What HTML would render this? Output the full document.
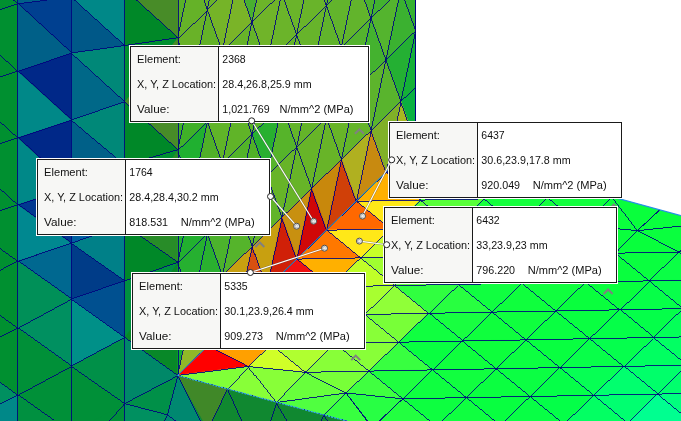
<!DOCTYPE html>
<html><head><meta charset="utf-8"><title>Probe results</title>
<style>html,body{margin:0;padding:0;background:#fff;overflow:hidden}svg{display:block}</style></head>
<body><svg width="681" height="421" viewBox="0 0 681 421">
<rect width="681" height="421" fill="#fff"/>
<g>
<polygon points="-5.0,-5.0 178.0,-5.0 178.0,376.0 167.0,430.0 -5.0,430.0" fill="#009038" />
<polygon points="-5.0,-5.0 17.5,-5.0 17.5,426.0 -5.0,426.0" fill="#009030" />
<polygon points="-36.0,356.0 17.5,395.0 -36.0,423.0" fill="#009060" />
<polygon points="-36.0,423.0 17.5,395.0 17.5,462.0" fill="#008888" />
<polygon points="17.5,-63.0 71.1,-59.0 71.1,-3.0" fill="#004090" />
<polygon points="17.5,-63.0 71.1,-3.0 17.5,3.7" fill="#006088" />
<polygon points="17.5,3.7 71.1,-3.0 71.1,53.0" fill="#004090" />
<polygon points="17.5,3.7 71.1,53.0 17.5,71.2" fill="#006088" />
<polygon points="17.5,71.2 71.1,53.0 71.1,120.1" fill="#002888" />
<polygon points="17.5,71.2 71.1,120.1 17.5,137.7" fill="#008888" />
<polygon points="17.5,137.7 71.1,120.1 71.1,187.0" fill="#002888" />
<polygon points="17.5,137.7 71.1,187.0 17.5,204.7" fill="#008888" />
<polygon points="17.5,204.7 71.1,187.0 71.1,243.2" fill="#003890" />
<polygon points="17.5,204.7 71.1,243.2 17.5,261.0" fill="#008890" />
<polygon points="17.5,261.0 71.1,243.2 71.1,299.0" fill="#006890" />
<polygon points="17.5,261.0 71.1,299.0 17.5,328.0" fill="#009058" />
<polygon points="17.5,328.0 71.1,299.0 71.1,366.2" fill="#009060" />
<polygon points="17.5,328.0 71.1,366.2 17.5,395.0" fill="#009038" />
<polygon points="17.5,395.0 71.1,366.2 71.1,433.0" fill="#009038" />
<polygon points="17.5,395.0 71.1,433.0 17.5,462.0" fill="#009040" />
<polygon points="71.1,-59.0 124.7,-67.0 124.7,-10.7" fill="#008888" />
<polygon points="71.1,-59.0 124.7,-10.7 71.1,-3.0" fill="#005888" />
<polygon points="71.1,-3.0 124.7,-10.7 124.7,45.5" fill="#008888" />
<polygon points="71.1,-3.0 124.7,45.5 71.1,53.0" fill="#005888" />
<polygon points="71.1,53.0 124.7,45.5 124.7,101.7" fill="#008878" />
<polygon points="71.1,53.0 124.7,101.7 71.1,120.1" fill="#006888" />
<polygon points="71.1,120.1 124.7,101.7 124.7,165.0" fill="#008878" />
<polygon points="71.1,120.1 124.7,165.0 71.1,187.0" fill="#006088" />
<polygon points="71.1,187.0 124.7,165.0 124.7,225.0" fill="#008080" />
<polygon points="71.1,187.0 124.7,225.0 71.1,243.2" fill="#0060a0" />
<polygon points="71.1,243.2 124.7,225.0 124.7,280.8" fill="#008088" />
<polygon points="71.1,243.2 124.7,280.8 71.1,299.0" fill="#003c88" />
<polygon points="71.1,299.0 124.7,280.8 124.7,337.4" fill="#005090" />
<polygon points="71.1,299.0 124.7,337.4 71.1,366.2" fill="#009088" />
<polygon points="71.1,366.2 124.7,337.4 124.7,403.6" fill="#009048" />
<polygon points="71.1,366.2 124.7,403.6 71.1,433.0" fill="#009038" />
<polygon points="124.7,-70.0 178.0,-75.0 178.0,37.7 124.7,-10.7" fill="#488c28" />
<polygon points="124.7,-10.7 178.0,37.7 124.7,45.5" fill="#008828" />
<polygon points="124.7,45.5 178.0,37.7 178.0,149.7 124.7,101.7" fill="#488c28" />
<polygon points="124.7,45.5 124.7,101.7 178.0,37.7" fill="#009030" />
<polygon points="124.7,101.7 178.0,149.7 124.7,165.0" fill="#008828" />
<polygon points="124.7,165.0 178.0,149.7 178.0,262.3 124.7,225.0" fill="#288c28" />
<polygon points="124.7,165.0 124.7,225.0 178.0,149.7" fill="#009030" />
<polygon points="124.7,225.0 178.0,262.3 124.7,280.8" fill="#008828" />
<polygon points="124.7,280.8 178.0,262.3 178.0,375.6 124.7,337.4" fill="#088828" />
<polygon points="124.7,280.8 124.7,337.4 178.0,262.3" fill="#009040" />
<polygon points="124.7,337.4 178.0,375.6 124.7,403.6" fill="#008868" />
<polygon points="124.7,403.6 178.0,375.6 167.4,414.8" fill="#009048" />
<polygon points="124.7,403.6 167.4,414.8 150.0,440.0 124.7,470.0" fill="#009060" />
</g>
<clipPath id="cw"><polygon points="178,0 415.5,0 415.5,143.1 177.6,375.4"/></clipPath>
<g clip-path="url(#cw)">
<rect x="178" y="0" width="238" height="380" fill="#68b428"/>
<polygon points="430.5,-39.7 400.8,-10.7 415.7,30.9" fill="#35b130" stroke="#35b130" stroke-width="0.6"/>
<polygon points="430.5,-39.7 445.4,1.9 415.7,30.9" fill="#36b130" stroke="#36b130" stroke-width="0.6"/>
<polygon points="445.4,1.9 415.7,30.9 430.6,72.5" fill="#2cb133" stroke="#2cb133" stroke-width="0.6"/>
<polygon points="385.8,-52.3 356.1,-23.3 371.0,18.3" fill="#4cb22e" stroke="#4cb22e" stroke-width="0.6"/>
<polygon points="385.8,-52.3 400.8,-10.7 371.0,18.3" fill="#42b22f" stroke="#42b22f" stroke-width="0.6"/>
<polygon points="400.8,-10.7 371.0,18.3 385.9,59.9" fill="#54b42e" stroke="#54b42e" stroke-width="0.6"/>
<polygon points="400.8,-10.7 415.7,30.9 385.9,59.9" fill="#3bb130" stroke="#3bb130" stroke-width="0.6"/>
<polygon points="415.7,30.9 385.9,59.9 400.9,101.5" fill="#24b033" stroke="#24b033" stroke-width="0.6"/>
<polygon points="415.7,30.9 430.6,72.5 400.9,101.5" fill="#15b037" stroke="#15b037" stroke-width="0.6"/>
<polygon points="430.6,72.5 400.9,101.5 415.8,143.1" fill="#0ab040" stroke="#0ab040" stroke-width="0.6"/>
<polygon points="430.6,72.5 445.5,114.1 415.8,143.1" fill="#15b03c" stroke="#15b03c" stroke-width="0.6"/>
<polygon points="341.2,-64.9 311.4,-35.9 326.4,5.7" fill="#5cb32c" stroke="#5cb32c" stroke-width="0.6"/>
<polygon points="341.2,-64.9 356.1,-23.3 326.4,5.7" fill="#58b32d" stroke="#58b32d" stroke-width="0.6"/>
<polygon points="356.1,-23.3 326.4,5.7 341.3,47.3" fill="#62b42c" stroke="#62b42c" stroke-width="0.6"/>
<polygon points="356.1,-23.3 371.0,18.3 341.3,47.3" fill="#62b42c" stroke="#62b42c" stroke-width="0.6"/>
<polygon points="371.0,18.3 341.3,47.3 356.2,88.9" fill="#54b32e" stroke="#54b32e" stroke-width="0.6"/>
<polygon points="371.0,18.3 385.9,59.9 356.2,88.9" fill="#44b22f" stroke="#44b22f" stroke-width="0.6"/>
<polygon points="385.9,59.9 356.2,88.9 371.1,130.5" fill="#5db42c" stroke="#5db42c" stroke-width="0.6"/>
<polygon points="385.9,59.9 400.9,101.5 371.1,130.5" fill="#59b42d" stroke="#59b42d" stroke-width="0.6"/>
<polygon points="400.9,101.5 371.1,130.5 386.1,172.1" fill="#80b028" stroke="#80b028" stroke-width="0.6"/>
<polygon points="400.9,101.5 415.8,143.1 386.1,172.1" fill="#a8b820" stroke="#a8b820" stroke-width="0.6"/>
<polygon points="311.4,-35.9 281.7,-6.9 296.6,34.7" fill="#6ab42a" stroke="#6ab42a" stroke-width="0.6"/>
<polygon points="311.4,-35.9 326.4,5.7 296.6,34.7" fill="#69b42a" stroke="#69b42a" stroke-width="0.6"/>
<polygon points="326.4,5.7 296.6,34.7 311.5,76.3" fill="#67b42b" stroke="#67b42b" stroke-width="0.6"/>
<polygon points="326.4,5.7 341.3,47.3 311.5,76.3" fill="#61b42c" stroke="#61b42c" stroke-width="0.6"/>
<polygon points="341.3,47.3 311.5,76.3 326.5,117.9" fill="#61b42b" stroke="#61b42b" stroke-width="0.6"/>
<polygon points="341.3,47.3 356.2,88.9 326.5,117.9" fill="#58b32c" stroke="#58b32c" stroke-width="0.6"/>
<polygon points="356.2,88.9 326.5,117.9 341.4,159.5" fill="#68b428" stroke="#68b428" stroke-width="0.6"/>
<polygon points="356.2,88.9 371.1,130.5 341.4,159.5" fill="#64b429" stroke="#64b429" stroke-width="0.6"/>
<polygon points="371.1,130.5 341.4,159.5 356.3,201.1" fill="#b0b020" stroke="#b0b020" stroke-width="0.6"/>
<polygon points="371.1,130.5 386.1,172.1 356.3,201.1" fill="#c88a10" stroke="#c88a10" stroke-width="0.6"/>
<polygon points="266.8,-48.5 237.0,-19.4 251.9,22.1" fill="#48b030" stroke="#48b030" stroke-width="0.6"/>
<polygon points="266.8,-48.5 281.7,-6.9 251.9,22.1" fill="#6cb429" stroke="#6cb429" stroke-width="0.6"/>
<polygon points="281.7,-6.9 251.9,22.1 266.9,63.7" fill="#70b429" stroke="#70b429" stroke-width="0.6"/>
<polygon points="281.7,-6.9 296.6,34.7 266.9,63.7" fill="#6bb42a" stroke="#6bb42a" stroke-width="0.6"/>
<polygon points="296.6,34.7 266.9,63.7 281.8,105.3" fill="#66b42a" stroke="#66b42a" stroke-width="0.6"/>
<polygon points="296.6,34.7 311.5,76.3 281.8,105.3" fill="#68b42a" stroke="#68b42a" stroke-width="0.6"/>
<polygon points="311.5,76.3 281.8,105.3 296.7,146.9" fill="#63b429" stroke="#63b429" stroke-width="0.6"/>
<polygon points="311.5,76.3 326.5,117.9 296.7,146.9" fill="#64b429" stroke="#64b429" stroke-width="0.6"/>
<polygon points="326.5,117.9 296.7,146.9 311.6,188.5" fill="#67b428" stroke="#67b428" stroke-width="0.6"/>
<polygon points="326.5,117.9 341.4,159.5 311.6,188.5" fill="#68b428" stroke="#68b428" stroke-width="0.6"/>
<polygon points="341.4,159.5 311.6,188.5 326.6,230.1" fill="#c8880c" stroke="#c8880c" stroke-width="0.6"/>
<polygon points="341.4,159.5 356.3,201.1 326.6,230.1" fill="#d04008" stroke="#d04008" stroke-width="0.6"/>
<polygon points="222.1,-61.0 192.3,-32.0 207.3,9.6" fill="#66b228" stroke="#66b228" stroke-width="0.6"/>
<polygon points="222.1,-61.0 237.0,-19.4 207.3,9.6" fill="#6ab329" stroke="#6ab329" stroke-width="0.6"/>
<polygon points="237.0,-19.4 207.3,9.6 222.2,51.2" fill="#75b428" stroke="#75b428" stroke-width="0.6"/>
<polygon points="237.0,-19.4 251.9,22.1 222.2,51.2" fill="#7ab428" stroke="#7ab428" stroke-width="0.6"/>
<polygon points="251.9,22.1 222.2,51.2 237.1,92.8" fill="#67b329" stroke="#67b329" stroke-width="0.6"/>
<polygon points="251.9,22.1 266.9,63.7 237.1,92.8" fill="#65b329" stroke="#65b329" stroke-width="0.6"/>
<polygon points="266.9,63.7 237.1,92.8 252.0,134.3" fill="#59b329" stroke="#59b329" stroke-width="0.6"/>
<polygon points="266.9,63.7 281.8,105.3 252.0,134.3" fill="#5cb429" stroke="#5cb429" stroke-width="0.6"/>
<polygon points="281.8,105.3 252.0,134.3 267.0,175.9" fill="#28b030" stroke="#28b030" stroke-width="0.6"/>
<polygon points="281.8,105.3 296.7,146.9 267.0,175.9" fill="#56b42a" stroke="#56b42a" stroke-width="0.6"/>
<polygon points="296.7,146.9 267.0,175.9 281.9,217.5" fill="#67b428" stroke="#67b428" stroke-width="0.6"/>
<polygon points="296.7,146.9 311.6,188.5 281.9,217.5" fill="#67b428" stroke="#67b428" stroke-width="0.6"/>
<polygon points="311.6,188.5 281.9,217.5 296.8,259.1" fill="#c89010" stroke="#c89010" stroke-width="0.6"/>
<polygon points="311.6,188.5 326.6,230.1 296.8,259.1" fill="#d00808" stroke="#d00808" stroke-width="0.6"/>
<polygon points="177.4,-73.6 192.3,-32.0 162.6,-3.0" fill="#61b228" stroke="#61b228" stroke-width="0.6"/>
<polygon points="192.3,-32.0 162.6,-3.0 177.5,38.6" fill="#59b128" stroke="#59b128" stroke-width="0.6"/>
<polygon points="192.3,-32.0 207.3,9.6 177.5,38.6" fill="#65b228" stroke="#65b228" stroke-width="0.6"/>
<polygon points="207.3,9.6 177.5,38.6 192.5,80.2" fill="#69b228" stroke="#69b228" stroke-width="0.6"/>
<polygon points="207.3,9.6 222.2,51.2 192.5,80.2" fill="#64b228" stroke="#64b228" stroke-width="0.6"/>
<polygon points="222.2,51.2 192.5,80.2 207.4,121.8" fill="#50b028" stroke="#50b028" stroke-width="0.6"/>
<polygon points="222.2,51.2 237.1,92.8 207.4,121.8" fill="#52b128" stroke="#52b128" stroke-width="0.6"/>
<polygon points="237.1,92.8 207.4,121.8 222.3,163.4" fill="#60b428" stroke="#60b428" stroke-width="0.6"/>
<polygon points="237.1,92.8 252.0,134.3 222.3,163.4" fill="#60b428" stroke="#60b428" stroke-width="0.6"/>
<polygon points="252.0,134.3 222.3,163.4 237.2,204.9" fill="#52b329" stroke="#52b329" stroke-width="0.6"/>
<polygon points="252.0,134.3 267.0,175.9 237.2,204.9" fill="#50b028" stroke="#50b028" stroke-width="0.6"/>
<polygon points="267.0,175.9 237.2,204.9 252.2,246.5" fill="#5cb329" stroke="#5cb329" stroke-width="0.6"/>
<polygon points="267.0,175.9 281.9,217.5 252.2,246.5" fill="#61b429" stroke="#61b429" stroke-width="0.6"/>
<polygon points="281.9,217.5 252.2,246.5 267.1,288.1" fill="#c8a010" stroke="#c8a010" stroke-width="0.6"/>
<polygon points="281.9,217.5 296.8,259.1 267.1,288.1" fill="#d02008" stroke="#d02008" stroke-width="0.6"/>
<polygon points="162.6,-3.0 177.5,38.6 147.8,67.6" fill="#5fb228" stroke="#5fb228" stroke-width="0.6"/>
<polygon points="177.5,38.6 147.8,67.6 162.7,109.2" fill="#55b128" stroke="#55b128" stroke-width="0.6"/>
<polygon points="177.5,38.6 192.5,80.2 162.7,109.2" fill="#52b028" stroke="#52b028" stroke-width="0.6"/>
<polygon points="192.5,80.2 162.7,109.2 177.6,150.8" fill="#3fb128" stroke="#3fb128" stroke-width="0.6"/>
<polygon points="192.5,80.2 207.4,121.8 177.6,150.8" fill="#40b028" stroke="#40b028" stroke-width="0.6"/>
<polygon points="207.4,121.8 177.6,150.8 192.6,192.4" fill="#20b030" stroke="#20b030" stroke-width="0.6"/>
<polygon points="207.4,121.8 222.3,163.4 192.6,192.4" fill="#50b028" stroke="#50b028" stroke-width="0.6"/>
<polygon points="222.3,163.4 192.6,192.4 207.5,234.0" fill="#29b030" stroke="#29b030" stroke-width="0.6"/>
<polygon points="222.3,163.4 237.2,204.9 207.5,234.0" fill="#36b12e" stroke="#36b12e" stroke-width="0.6"/>
<polygon points="237.2,204.9 207.5,234.0 222.4,275.5" fill="#4cb32c" stroke="#4cb32c" stroke-width="0.6"/>
<polygon points="237.2,204.9 252.2,246.5 222.4,275.5" fill="#55b42b" stroke="#55b42b" stroke-width="0.6"/>
<polygon points="252.2,246.5 222.4,275.5 237.3,317.1" fill="#c8a010" stroke="#c8a010" stroke-width="0.6"/>
<polygon points="252.2,246.5 267.1,288.1 237.3,317.1" fill="#d85010" stroke="#d85010" stroke-width="0.6"/>
<polygon points="162.7,109.2 177.6,150.8 147.9,179.8" fill="#36b129" stroke="#36b129" stroke-width="0.6"/>
<polygon points="177.6,150.8 147.9,179.8 162.8,221.4" fill="#33b12d" stroke="#33b12d" stroke-width="0.6"/>
<polygon points="177.6,150.8 192.6,192.4 162.8,221.4" fill="#2eb02e" stroke="#2eb02e" stroke-width="0.6"/>
<polygon points="192.6,192.4 162.8,221.4 177.7,263.0" fill="#21b02f" stroke="#21b02f" stroke-width="0.6"/>
<polygon points="192.6,192.4 207.5,234.0 177.7,263.0" fill="#22b02f" stroke="#22b02f" stroke-width="0.6"/>
<polygon points="207.5,234.0 177.7,263.0 192.7,304.6" fill="#26b030" stroke="#26b030" stroke-width="0.6"/>
<polygon points="207.5,234.0 222.4,275.5 192.7,304.6" fill="#2ab02f" stroke="#2ab02f" stroke-width="0.6"/>
<polygon points="222.4,275.5 192.7,304.6 207.6,346.1" fill="#c0a818" stroke="#c0a818" stroke-width="0.6"/>
<polygon points="222.4,275.5 237.3,317.1 207.6,346.1" fill="#d06010" stroke="#d06010" stroke-width="0.6"/>
<polygon points="162.8,221.4 177.7,263.0 148.0,292.0" fill="#1ab030" stroke="#1ab030" stroke-width="0.6"/>
<polygon points="177.7,263.0 148.0,292.0 162.9,333.6" fill="#23b02f" stroke="#23b02f" stroke-width="0.6"/>
<polygon points="177.7,263.0 192.7,304.6 162.9,333.6" fill="#23b02f" stroke="#23b02f" stroke-width="0.6"/>
<polygon points="192.7,304.6 162.9,333.6 177.8,375.2" fill="#10b030" stroke="#10b030" stroke-width="0.6"/>
<polygon points="192.7,304.6 207.6,346.1 177.8,375.2" fill="#90b828" stroke="#90b828" stroke-width="0.6"/>
<polygon points="162.9,333.6 177.8,375.2 148.1,404.2" fill="#17b02f" stroke="#17b02f" stroke-width="0.6"/>
</g>
<clipPath id="cf"><polygon points="415.6,143.1 611.3,196.6 683.0,216.2 683.0,423.0 354.0,423.0 323.7,415.0 276.4,402.5 227.4,389.0 177.6,375.4"/></clipPath>
<g clip-path="url(#cf)">
<rect x="170" y="140" width="520" height="290" fill="#04ff40"/>
<polygon points="446.0,114.6 509.7,113.4 479.9,142.3" fill="#41ff3c" stroke="#41ff3c" stroke-width="0.6"/>
<polygon points="446.0,114.6 416.2,143.5 479.9,142.3" fill="#4cff3b" stroke="#4cff3b" stroke-width="0.6"/>
<polygon points="509.7,113.4 573.3,112.3 543.5,141.1" fill="#2dff3d" stroke="#2dff3d" stroke-width="0.6"/>
<polygon points="509.7,113.4 479.9,142.3 543.5,141.1" fill="#35ff3c" stroke="#35ff3c" stroke-width="0.6"/>
<polygon points="573.3,112.3 637.0,111.1 607.2,140.0" fill="#20ff3f" stroke="#20ff3f" stroke-width="0.6"/>
<polygon points="573.3,112.3 543.5,141.1 607.2,140.0" fill="#24ff3e" stroke="#24ff3e" stroke-width="0.6"/>
<polygon points="637.0,111.1 607.2,140.0 670.9,138.8" fill="#1aff3f" stroke="#1aff3f" stroke-width="0.6"/>
<polygon points="700.6,109.9 670.9,138.8 734.5,137.6" fill="#18ff42" stroke="#18ff42" stroke-width="0.6"/>
<polygon points="416.2,143.5 479.9,142.3 450.1,171.2" fill="#ffe020" stroke="#ffe020" stroke-width="0.6"/>
<polygon points="416.2,143.5 386.4,172.4 450.1,171.2" fill="#ffc000" stroke="#ffc000" stroke-width="0.6"/>
<polygon points="479.9,142.3 543.5,141.1 513.8,170.0" fill="#30ff3c" stroke="#30ff3c" stroke-width="0.6"/>
<polygon points="479.9,142.3 450.1,171.2 513.8,170.0" fill="#3dff3c" stroke="#3dff3c" stroke-width="0.6"/>
<polygon points="543.5,141.1 607.2,140.0 577.4,168.9" fill="#20ff3e" stroke="#20ff3e" stroke-width="0.6"/>
<polygon points="543.5,141.1 513.8,170.0 577.4,168.9" fill="#25ff3d" stroke="#25ff3d" stroke-width="0.6"/>
<polygon points="607.2,140.0 670.9,138.8 641.1,167.7" fill="#15ff3f" stroke="#15ff3f" stroke-width="0.6"/>
<polygon points="607.2,140.0 577.4,168.9 641.1,167.7" fill="#17ff3e" stroke="#17ff3e" stroke-width="0.6"/>
<polygon points="670.9,138.8 734.5,137.6 704.7,166.5" fill="#15ff42" stroke="#15ff42" stroke-width="0.6"/>
<polygon points="670.9,138.8 641.1,167.7 704.7,166.5" fill="#12ff40" stroke="#12ff40" stroke-width="0.6"/>
<polygon points="386.4,172.4 450.1,171.2 420.3,200.1" fill="#ffd010" stroke="#ffd010" stroke-width="0.6"/>
<polygon points="386.4,172.4 356.6,201.3 420.3,200.1" fill="#ffb000" stroke="#ffb000" stroke-width="0.6"/>
<polygon points="450.1,171.2 513.8,170.0 484.0,198.9" fill="#37ff3c" stroke="#37ff3c" stroke-width="0.6"/>
<polygon points="450.1,171.2 420.3,200.1 484.0,198.9" fill="#4eff3c" stroke="#4eff3c" stroke-width="0.6"/>
<polygon points="513.8,170.0 577.4,168.9 547.6,197.8" fill="#1fff3d" stroke="#1fff3d" stroke-width="0.6"/>
<polygon points="513.8,170.0 484.0,198.9 547.6,197.8" fill="#1eff3c" stroke="#1eff3c" stroke-width="0.6"/>
<polygon points="577.4,168.9 641.1,167.7 611.3,196.6" fill="#12ff3e" stroke="#12ff3e" stroke-width="0.6"/>
<polygon points="577.4,168.9 547.6,197.8 611.3,196.6" fill="#17ff3e" stroke="#17ff3e" stroke-width="0.6"/>
<polygon points="641.1,167.7 704.7,166.5 674.9,195.4" fill="#0fff3f" stroke="#0fff3f" stroke-width="0.6"/>
<polygon points="641.1,167.7 611.3,196.6 674.9,195.4" fill="#0cff3d" stroke="#0cff3d" stroke-width="0.6"/>
<polygon points="704.7,166.5 674.9,195.4 738.6,194.2" fill="#10ff41" stroke="#10ff41" stroke-width="0.6"/>
<polygon points="356.6,201.3 420.3,200.1 390.5,229.0" fill="#ffe818" stroke="#ffe818" stroke-width="0.6"/>
<polygon points="356.6,201.3 326.9,230.2 390.5,229.0" fill="#ff6800" stroke="#ff6800" stroke-width="0.6"/>
<polygon points="420.3,200.1 484.0,198.9 454.2,227.8" fill="#58ff38" stroke="#58ff38" stroke-width="0.6"/>
<polygon points="420.3,200.1 390.5,229.0 454.2,227.8" fill="#60ff38" stroke="#60ff38" stroke-width="0.6"/>
<polygon points="484.0,198.9 547.6,197.8 517.8,226.6" fill="#14ff3c" stroke="#14ff3c" stroke-width="0.6"/>
<polygon points="484.0,198.9 454.2,227.8 517.8,226.6" fill="#17ff3c" stroke="#17ff3c" stroke-width="0.6"/>
<polygon points="547.6,197.8 611.3,196.6 581.5,225.5" fill="#12ff3d" stroke="#12ff3d" stroke-width="0.6"/>
<polygon points="547.6,197.8 517.8,226.6 581.5,225.5" fill="#13ff3d" stroke="#13ff3d" stroke-width="0.6"/>
<polygon points="611.3,196.6 674.9,195.4 637.4,230.7" fill="#09ff3c" stroke="#09ff3c" stroke-width="0.6"/>
<polygon points="611.3,196.6 581.5,225.5 637.4,230.7" fill="#0bff3d" stroke="#0bff3d" stroke-width="0.6"/>
<polygon points="674.9,195.4 738.6,194.2 708.8,223.1" fill="#0eff42" stroke="#0eff42" stroke-width="0.6"/>
<polygon points="674.9,195.4 637.4,230.7 708.8,223.1" fill="#0aff3e" stroke="#0aff3e" stroke-width="0.6"/>
<polygon points="326.9,230.2 390.5,229.0 360.7,257.9" fill="#ffe818" stroke="#ffe818" stroke-width="0.6"/>
<polygon points="326.9,230.2 297.1,259.1 360.7,257.9" fill="#ff7800" stroke="#ff7800" stroke-width="0.6"/>
<polygon points="390.5,229.0 454.2,227.8 424.4,256.7" fill="#a0ff30" stroke="#a0ff30" stroke-width="0.6"/>
<polygon points="390.5,229.0 360.7,257.9 424.4,256.7" fill="#c8ff28" stroke="#c8ff28" stroke-width="0.6"/>
<polygon points="454.2,227.8 517.8,226.6 488.1,255.5" fill="#1dff3c" stroke="#1dff3c" stroke-width="0.6"/>
<polygon points="454.2,227.8 424.4,256.7 488.1,255.5" fill="#30ff40" stroke="#30ff40" stroke-width="0.6"/>
<polygon points="517.8,226.6 581.5,225.5 551.7,254.4" fill="#0dff3c" stroke="#0dff3c" stroke-width="0.6"/>
<polygon points="517.8,226.6 488.1,255.5 551.7,254.4" fill="#17ff3c" stroke="#17ff3c" stroke-width="0.6"/>
<polygon points="581.5,225.5 637.4,230.7 615.4,253.2" fill="#0aff3d" stroke="#0aff3d" stroke-width="0.6"/>
<polygon points="581.5,225.5 551.7,254.4 615.4,253.2" fill="#0dff3d" stroke="#0dff3d" stroke-width="0.6"/>
<polygon points="637.4,230.7 708.8,223.1 679.0,252.0" fill="#0aff3e" stroke="#0aff3e" stroke-width="0.6"/>
<polygon points="637.4,230.7 615.4,253.2 679.0,252.0" fill="#08ff3c" stroke="#08ff3c" stroke-width="0.6"/>
<polygon points="708.8,223.1 679.0,252.0 742.7,250.8" fill="#0dff44" stroke="#0dff44" stroke-width="0.6"/>
<polygon points="297.1,259.1 360.7,257.9 330.9,286.8" fill="#ffb000" stroke="#ffb000" stroke-width="0.6"/>
<polygon points="297.1,259.1 267.3,288.0 330.9,286.8" fill="#f01010" stroke="#f01010" stroke-width="0.6"/>
<polygon points="360.7,257.9 424.4,256.7 394.6,285.6" fill="#a0ff30" stroke="#a0ff30" stroke-width="0.6"/>
<polygon points="360.7,257.9 330.9,286.8 394.6,285.6" fill="#c0ff28" stroke="#c0ff28" stroke-width="0.6"/>
<polygon points="424.4,256.7 488.1,255.5 458.3,284.4" fill="#34ff3f" stroke="#34ff3f" stroke-width="0.6"/>
<polygon points="424.4,256.7 394.6,285.6 458.3,284.4" fill="#63ff38" stroke="#63ff38" stroke-width="0.6"/>
<polygon points="488.1,255.5 551.7,254.4 521.9,283.3" fill="#16ff3d" stroke="#16ff3d" stroke-width="0.6"/>
<polygon points="488.1,255.5 458.3,284.4 521.9,283.3" fill="#1aff3d" stroke="#1aff3d" stroke-width="0.6"/>
<polygon points="551.7,254.4 615.4,253.2 585.6,282.1" fill="#0cff3d" stroke="#0cff3d" stroke-width="0.6"/>
<polygon points="551.7,254.4 521.9,283.3 585.6,282.1" fill="#0eff3d" stroke="#0eff3d" stroke-width="0.6"/>
<polygon points="615.4,253.2 679.0,252.0 649.2,280.9" fill="#09ff3f" stroke="#09ff3f" stroke-width="0.6"/>
<polygon points="615.4,253.2 585.6,282.1 649.2,280.9" fill="#09ff3e" stroke="#09ff3e" stroke-width="0.6"/>
<polygon points="679.0,252.0 742.7,250.8 712.9,279.7" fill="#0cff48" stroke="#0cff48" stroke-width="0.6"/>
<polygon points="679.0,252.0 649.2,280.9 712.9,279.7" fill="#0aff45" stroke="#0aff45" stroke-width="0.6"/>
<polygon points="267.3,288.0 330.9,286.8 301.2,315.7" fill="#ff9000" stroke="#ff9000" stroke-width="0.6"/>
<polygon points="267.3,288.0 237.5,316.8 301.2,315.7" fill="#ff2000" stroke="#ff2000" stroke-width="0.6"/>
<polygon points="330.9,286.8 394.6,285.6 364.8,314.5" fill="#a8ff30" stroke="#a8ff30" stroke-width="0.6"/>
<polygon points="330.9,286.8 301.2,315.7 364.8,314.5" fill="#c0ff28" stroke="#c0ff28" stroke-width="0.6"/>
<polygon points="394.6,285.6 458.3,284.4 428.5,313.3" fill="#30ff40" stroke="#30ff40" stroke-width="0.6"/>
<polygon points="394.6,285.6 364.8,314.5 428.5,313.3" fill="#90ff38" stroke="#90ff38" stroke-width="0.6"/>
<polygon points="458.3,284.4 521.9,283.3 492.1,312.1" fill="#10ff40" stroke="#10ff40" stroke-width="0.6"/>
<polygon points="458.3,284.4 428.5,313.3 492.1,312.1" fill="#28ff40" stroke="#28ff40" stroke-width="0.6"/>
<polygon points="521.9,283.3 585.6,282.1 555.8,311.0" fill="#0fff3e" stroke="#0fff3e" stroke-width="0.6"/>
<polygon points="521.9,283.3 492.1,312.1 555.8,311.0" fill="#0fff3d" stroke="#0fff3d" stroke-width="0.6"/>
<polygon points="585.6,282.1 649.2,280.9 619.5,309.8" fill="#08ff3d" stroke="#08ff3d" stroke-width="0.6"/>
<polygon points="585.6,282.1 555.8,311.0 619.5,309.8" fill="#09ff3d" stroke="#09ff3d" stroke-width="0.6"/>
<polygon points="649.2,280.9 712.9,279.7 683.1,308.6" fill="#08ff4b" stroke="#08ff4b" stroke-width="0.6"/>
<polygon points="649.2,280.9 619.5,309.8 683.1,308.6" fill="#06ff48" stroke="#06ff48" stroke-width="0.6"/>
<polygon points="712.9,279.7 683.1,308.6 746.8,307.4" fill="#09ff52" stroke="#09ff52" stroke-width="0.6"/>
<polygon points="237.5,316.8 301.2,315.7 271.4,344.6" fill="#ff9000" stroke="#ff9000" stroke-width="0.6"/>
<polygon points="237.5,316.8 207.7,345.7 271.4,344.6" fill="#ff1000" stroke="#ff1000" stroke-width="0.6"/>
<polygon points="301.2,315.7 364.8,314.5 335.0,343.4" fill="#b0ff30" stroke="#b0ff30" stroke-width="0.6"/>
<polygon points="301.2,315.7 271.4,344.6 335.0,343.4" fill="#c8ff28" stroke="#c8ff28" stroke-width="0.6"/>
<polygon points="364.8,314.5 428.5,313.3 398.7,342.2" fill="#78ff38" stroke="#78ff38" stroke-width="0.6"/>
<polygon points="364.8,314.5 335.0,343.4 398.7,342.2" fill="#88ff38" stroke="#88ff38" stroke-width="0.6"/>
<polygon points="428.5,313.3 492.1,312.1 462.4,341.0" fill="#18ff40" stroke="#18ff40" stroke-width="0.6"/>
<polygon points="428.5,313.3 398.7,342.2 462.4,341.0" fill="#10ff40" stroke="#10ff40" stroke-width="0.6"/>
<polygon points="492.1,312.1 555.8,311.0 526.0,339.9" fill="#0fff3e" stroke="#0fff3e" stroke-width="0.6"/>
<polygon points="492.1,312.1 462.4,341.0 526.0,339.9" fill="#0fff3d" stroke="#0fff3d" stroke-width="0.6"/>
<polygon points="555.8,311.0 619.5,309.8 589.7,338.7" fill="#09ff41" stroke="#09ff41" stroke-width="0.6"/>
<polygon points="555.8,311.0 526.0,339.9 589.7,338.7" fill="#09ff41" stroke="#09ff41" stroke-width="0.6"/>
<polygon points="619.5,309.8 683.1,308.6 653.3,337.5" fill="#04ff49" stroke="#04ff49" stroke-width="0.6"/>
<polygon points="619.5,309.8 589.7,338.7 653.3,337.5" fill="#05ff48" stroke="#05ff48" stroke-width="0.6"/>
<polygon points="683.1,308.6 746.8,307.4 717.0,336.3" fill="#07ff58" stroke="#07ff58" stroke-width="0.6"/>
<polygon points="683.1,308.6 653.3,337.5 717.0,336.3" fill="#04ff58" stroke="#04ff58" stroke-width="0.6"/>
<polygon points="207.7,345.7 271.4,344.6 248.4,366.5" fill="#ffa000" stroke="#ffa000" stroke-width="0.6"/>
<polygon points="207.7,345.7 177.6,375.4 248.4,366.5" fill="#ff0000" stroke="#ff0000" stroke-width="0.6"/>
<polygon points="271.4,344.6 335.0,343.4 305.2,372.3" fill="#b0ff30" stroke="#b0ff30" stroke-width="0.6"/>
<polygon points="271.4,344.6 248.4,366.5 305.2,372.3" fill="#d0ff28" stroke="#d0ff28" stroke-width="0.6"/>
<polygon points="335.0,343.4 398.7,342.2 368.9,371.1" fill="#88ff38" stroke="#88ff38" stroke-width="0.6"/>
<polygon points="335.0,343.4 305.2,372.3 368.9,371.1" fill="#88ff38" stroke="#88ff38" stroke-width="0.6"/>
<polygon points="398.7,342.2 462.4,341.0 432.6,369.9" fill="#08ff40" stroke="#08ff40" stroke-width="0.6"/>
<polygon points="398.7,342.2 368.9,371.1 432.6,369.9" fill="#38ff40" stroke="#38ff40" stroke-width="0.6"/>
<polygon points="462.4,341.0 526.0,339.9 496.2,368.8" fill="#0dff3c" stroke="#0dff3c" stroke-width="0.6"/>
<polygon points="462.4,341.0 432.6,369.9 496.2,368.8" fill="#0fff3d" stroke="#0fff3d" stroke-width="0.6"/>
<polygon points="526.0,339.9 589.7,338.7 559.9,367.6" fill="#08ff40" stroke="#08ff40" stroke-width="0.6"/>
<polygon points="526.0,339.9 496.2,368.8 559.9,367.6" fill="#0cff41" stroke="#0cff41" stroke-width="0.6"/>
<polygon points="589.7,338.7 653.3,337.5 623.5,366.4" fill="#05ff4d" stroke="#05ff4d" stroke-width="0.6"/>
<polygon points="589.7,338.7 559.9,367.6 623.5,366.4" fill="#08ff49" stroke="#08ff49" stroke-width="0.6"/>
<polygon points="653.3,337.5 717.0,336.3 687.2,365.2" fill="#02ff63" stroke="#02ff63" stroke-width="0.6"/>
<polygon points="653.3,337.5 623.5,366.4 687.2,365.2" fill="#01ff61" stroke="#01ff61" stroke-width="0.6"/>
<polygon points="717.0,336.3 687.2,365.2 750.9,364.1" fill="#04ff64" stroke="#04ff64" stroke-width="0.6"/>
<polygon points="305.2,372.3 368.9,371.1 346.0,393.0" fill="#78ff38" stroke="#78ff38" stroke-width="0.6"/>
<polygon points="368.9,371.1 432.6,369.9 402.8,398.8" fill="#1eff40" stroke="#1eff40" stroke-width="0.6"/>
<polygon points="368.9,371.1 346.0,393.0 402.8,398.8" fill="#40ff40" stroke="#40ff40" stroke-width="0.6"/>
<polygon points="432.6,369.9 496.2,368.8 466.4,397.6" fill="#11ff3f" stroke="#11ff3f" stroke-width="0.6"/>
<polygon points="432.6,369.9 402.8,398.8 466.4,397.6" fill="#0fff40" stroke="#0fff40" stroke-width="0.6"/>
<polygon points="496.2,368.8 559.9,367.6 530.1,396.5" fill="#0bff43" stroke="#0bff43" stroke-width="0.6"/>
<polygon points="496.2,368.8 466.4,397.6 530.1,396.5" fill="#0bff40" stroke="#0bff40" stroke-width="0.6"/>
<polygon points="559.9,367.6 623.5,366.4 593.8,395.3" fill="#06ff54" stroke="#06ff54" stroke-width="0.6"/>
<polygon points="559.9,367.6 530.1,396.5 593.8,395.3" fill="#05ff48" stroke="#05ff48" stroke-width="0.6"/>
<polygon points="623.5,366.4 687.2,365.2 657.4,394.1" fill="#00ff6a" stroke="#00ff6a" stroke-width="0.6"/>
<polygon points="623.5,366.4 593.8,395.3 657.4,394.1" fill="#01ff6e" stroke="#01ff6e" stroke-width="0.6"/>
<polygon points="687.2,365.2 750.9,364.1 721.1,392.9" fill="#03ff68" stroke="#03ff68" stroke-width="0.6"/>
<polygon points="687.2,365.2 657.4,394.1 721.1,392.9" fill="#01ff6d" stroke="#01ff6d" stroke-width="0.6"/>
<polygon points="346.0,393.0 402.8,398.8 373.0,427.7" fill="#22ff40" stroke="#22ff40" stroke-width="0.6"/>
<polygon points="402.8,398.8 466.4,397.6 436.6,426.5" fill="#0dff40" stroke="#0dff40" stroke-width="0.6"/>
<polygon points="402.8,398.8 373.0,427.7 436.6,426.5" fill="#22ff40" stroke="#22ff40" stroke-width="0.6"/>
<polygon points="466.4,397.6 530.1,396.5 500.3,425.4" fill="#08ff40" stroke="#08ff40" stroke-width="0.6"/>
<polygon points="466.4,397.6 436.6,426.5 500.3,425.4" fill="#0fff40" stroke="#0fff40" stroke-width="0.6"/>
<polygon points="530.1,396.5 593.8,395.3 564.0,424.2" fill="#04ff48" stroke="#04ff48" stroke-width="0.6"/>
<polygon points="530.1,396.5 500.3,425.4 564.0,424.2" fill="#08ff45" stroke="#08ff45" stroke-width="0.6"/>
<polygon points="593.8,395.3 657.4,394.1 627.6,423.0" fill="#00ff70" stroke="#00ff70" stroke-width="0.6"/>
<polygon points="593.8,395.3 564.0,424.2 627.6,423.0" fill="#03ff63" stroke="#03ff63" stroke-width="0.6"/>
<polygon points="657.4,394.1 721.1,392.9 691.3,421.8" fill="#01ff7e" stroke="#01ff7e" stroke-width="0.6"/>
<polygon points="657.4,394.1 627.6,423.0 691.3,421.8" fill="#00ff90" stroke="#00ff90" stroke-width="0.6"/>
<polygon points="373.0,427.7 436.6,426.5 406.9,455.4" fill="#26ff3f" stroke="#26ff3f" stroke-width="0.6"/>
<polygon points="373.0,427.7 343.2,456.6 406.9,455.4" fill="#32ff3f" stroke="#32ff3f" stroke-width="0.6"/>
<polygon points="436.6,426.5 500.3,425.4 470.5,454.2" fill="#11ff40" stroke="#11ff40" stroke-width="0.6"/>
<polygon points="436.6,426.5 406.9,455.4 470.5,454.2" fill="#1bff40" stroke="#1bff40" stroke-width="0.6"/>
<polygon points="500.3,425.4 564.0,424.2 534.2,453.1" fill="#0aff46" stroke="#0aff46" stroke-width="0.6"/>
<polygon points="500.3,425.4 470.5,454.2 534.2,453.1" fill="#0dff42" stroke="#0dff42" stroke-width="0.6"/>
<polygon points="564.0,424.2 627.6,423.0 597.8,451.9" fill="#04ff62" stroke="#04ff62" stroke-width="0.6"/>
<polygon points="564.0,424.2 534.2,453.1 597.8,451.9" fill="#07ff4d" stroke="#07ff4d" stroke-width="0.6"/>
<polygon points="627.6,423.0 691.3,421.8 661.5,450.7" fill="#01ff89" stroke="#01ff89" stroke-width="0.6"/>
<polygon points="627.6,423.0 597.8,451.9 661.5,450.7" fill="#02ff73" stroke="#02ff73" stroke-width="0.6"/>
<polygon points="691.3,421.8 661.5,450.7 725.2,449.5" fill="#03ff7d" stroke="#03ff7d" stroke-width="0.6"/>
<polygon points="177.6,375.4 248.4,366.5 227.4,389.0" fill="#80ff38" stroke="#80ff38" stroke-width="0.6"/>
<polygon points="248.4,366.5 276.4,402.5 227.4,389.0" fill="#88ff38" stroke="#88ff38" stroke-width="0.6"/>
<polygon points="248.4,366.5 305.2,372.3 276.4,402.5" fill="#88ff38" stroke="#88ff38" stroke-width="0.6"/>
<polygon points="305.2,372.3 346.0,393.0 276.4,402.5" fill="#68ff3c" stroke="#68ff3c" stroke-width="0.6"/>
<polygon points="346.0,393.0 323.7,415.0 276.4,402.5" fill="#50ff40" stroke="#50ff40" stroke-width="0.6"/>
<polygon points="346.0,393.0 372.0,427.6 323.7,415.0" fill="#38ff40" stroke="#38ff40" stroke-width="0.6"/>
<polygon points="346.0,393.0 402.8,398.8 372.0,427.6" fill="#28ff44" stroke="#28ff44" stroke-width="0.6"/>
</g>
<polygon points="177.6,375.4 227.4,389 276.4,402.5 323.7,415 354,423 160,430 167.4,414.8" fill="#108830"/>
<polygon points="177.6,375.4 167.4,414.8 160.0,430.0 204.0,430.0 201.5,421.0" fill="#008870" />
<polygon points="177.6,375.4 227.4,389.0 208.0,430.0" fill="#408828" />
<g stroke="#000080" stroke-width="0.85" fill="none" shape-rendering="crispEdges">
<path d="M17.5 -63.0L71.1 -59.0"/>
<path d="M17.5 -63.0L71.1 -3.0"/>
<path d="M71.1 -59.0L124.7 -67.0"/>
<path d="M71.1 -59.0L124.7 -10.7"/>
<path d="M17.5 3.7L71.1 -3.0"/>
<path d="M17.5 3.7L71.1 53.0"/>
<path d="M71.1 -3.0L124.7 -10.7"/>
<path d="M71.1 -3.0L124.7 45.5"/>
<path d="M17.5 71.2L71.1 53.0"/>
<path d="M17.5 71.2L71.1 120.1"/>
<path d="M71.1 53.0L124.7 45.5"/>
<path d="M71.1 53.0L124.7 101.7"/>
<path d="M17.5 137.7L71.1 120.1"/>
<path d="M17.5 137.7L71.1 187.0"/>
<path d="M71.1 120.1L124.7 101.7"/>
<path d="M71.1 120.1L124.7 165.0"/>
<path d="M17.5 204.7L71.1 187.0"/>
<path d="M17.5 204.7L71.1 243.2"/>
<path d="M71.1 187.0L124.7 165.0"/>
<path d="M71.1 187.0L124.7 225.0"/>
<path d="M17.5 261.0L71.1 243.2"/>
<path d="M17.5 261.0L71.1 299.0"/>
<path d="M71.1 243.2L124.7 225.0"/>
<path d="M71.1 243.2L124.7 280.8"/>
<path d="M17.5 328.0L71.1 299.0"/>
<path d="M17.5 328.0L71.1 366.2"/>
<path d="M71.1 299.0L124.7 280.8"/>
<path d="M71.1 299.0L124.7 337.4"/>
<path d="M17.5 395.0L71.1 366.2"/>
<path d="M17.5 395.0L71.1 433.0"/>
<path d="M71.1 366.2L124.7 337.4"/>
<path d="M71.1 366.2L124.7 403.6"/>
<path d="M-36.0 -45.0L17.5 -63.0"/>
<path d="M-36.0 -45.0L17.5 3.7"/>
<path d="M-36.0 22.0L17.5 3.7"/>
<path d="M-36.0 22.0L17.5 71.2"/>
<path d="M-36.0 89.0L17.5 71.2"/>
<path d="M-36.0 89.0L17.5 137.7"/>
<path d="M-36.0 156.0L17.5 137.7"/>
<path d="M-36.0 156.0L17.5 204.7"/>
<path d="M-36.0 223.0L17.5 204.7"/>
<path d="M-36.0 223.0L17.5 261.0"/>
<path d="M-36.0 289.6L17.5 261.0"/>
<path d="M-36.0 289.6L17.5 328.0"/>
<path d="M-36.0 356.0L17.5 328.0"/>
<path d="M-36.0 356.0L17.5 395.0"/>
<path d="M-36.0 423.0L17.5 395.0"/>
<path d="M-36.0 423.0L17.5 462.0"/>
<path d="M17.5 -5.0L17.5 426.0"/>
<path d="M71.1 -5.0L71.1 426.0"/>
<path d="M124.7 -5.0L124.7 426.0"/>
<path d="M178.0 -5.0L178.0 375.6"/>
<path d="M124.7 -10.7L178.0 37.7"/>
<path d="M124.7 45.5L178.0 37.7"/>
<path d="M124.7 101.7L178.0 149.7"/>
<path d="M124.7 165.0L178.0 149.7"/>
<path d="M124.7 225.0L178.0 262.3"/>
<path d="M124.7 280.8L178.0 262.3"/>
<path d="M124.7 337.4L178.0 375.6"/>
<path d="M124.7 403.6L178.0 375.6"/>
<path d="M124.7 403.6L167.4 414.8"/>
<path d="M178.0 375.6L167.4 414.8"/>
<path d="M124.7 403.6L100.0 432.0"/>
<path d="M167.4 414.8L160.0 430.0"/>
<path d="M167.4 414.8L185.0 428.0"/>
<path d="M177.6 375.4L204.0 428.0"/>
<path d="M227.4 389.0L208.0 430.0"/>
<path d="M227.4 389.0L245.0 428.0"/>
<path d="M276.4 402.5L268.0 428.0"/>
<path d="M276.4 402.5L292.0 428.0"/>
<path d="M323.7 415.0L318.0 428.0"/>
<path d="M323.7 415.0L332.0 428.0"/>
</g>
<g clip-path="url(#cw)" stroke="#000080" stroke-width="0.85" fill="none" shape-rendering="crispEdges">
<path d="M430.5 -39.7L415.7 30.9"/>
<path d="M445.4 1.9L415.7 30.9"/>
<path d="M385.8 -52.3L371.0 18.3"/>
<path d="M400.8 -10.7L371.0 18.3"/>
<path d="M400.8 -10.7L415.7 30.9"/>
<path d="M400.8 -10.7L385.9 59.9"/>
<path d="M415.7 30.9L385.9 59.9"/>
<path d="M415.7 30.9L430.6 72.5"/>
<path d="M415.7 30.9L400.9 101.5"/>
<path d="M430.6 72.5L400.9 101.5"/>
<path d="M430.6 72.5L415.8 143.1"/>
<path d="M445.5 114.1L415.8 143.1"/>
<path d="M341.2 -64.9L326.4 5.7"/>
<path d="M356.1 -23.3L326.4 5.7"/>
<path d="M356.1 -23.3L371.0 18.3"/>
<path d="M356.1 -23.3L341.3 47.3"/>
<path d="M371.0 18.3L341.3 47.3"/>
<path d="M371.0 18.3L385.9 59.9"/>
<path d="M371.0 18.3L356.2 88.9"/>
<path d="M385.9 59.9L356.2 88.9"/>
<path d="M385.9 59.9L400.9 101.5"/>
<path d="M385.9 59.9L371.1 130.5"/>
<path d="M400.9 101.5L371.1 130.5"/>
<path d="M400.9 101.5L415.8 143.1"/>
<path d="M400.9 101.5L386.1 172.1"/>
<path d="M415.8 143.1L386.1 172.1"/>
<path d="M415.8 143.1L430.7 184.7"/>
<path d="M415.8 143.1L401.0 213.7"/>
<path d="M311.4 -35.9L326.4 5.7"/>
<path d="M311.4 -35.9L296.6 34.7"/>
<path d="M326.4 5.7L296.6 34.7"/>
<path d="M326.4 5.7L341.3 47.3"/>
<path d="M326.4 5.7L311.5 76.3"/>
<path d="M341.3 47.3L311.5 76.3"/>
<path d="M341.3 47.3L356.2 88.9"/>
<path d="M341.3 47.3L326.5 117.9"/>
<path d="M356.2 88.9L326.5 117.9"/>
<path d="M356.2 88.9L371.1 130.5"/>
<path d="M356.2 88.9L341.4 159.5"/>
<path d="M371.1 130.5L341.4 159.5"/>
<path d="M371.1 130.5L386.1 172.1"/>
<path d="M371.1 130.5L356.3 201.1"/>
<path d="M386.1 172.1L356.3 201.1"/>
<path d="M386.1 172.1L401.0 213.7"/>
<path d="M386.1 172.1L371.2 242.7"/>
<path d="M266.8 -48.5L251.9 22.1"/>
<path d="M281.7 -6.9L251.9 22.1"/>
<path d="M281.7 -6.9L296.6 34.7"/>
<path d="M281.7 -6.9L266.9 63.7"/>
<path d="M296.6 34.7L266.9 63.7"/>
<path d="M296.6 34.7L311.5 76.3"/>
<path d="M296.6 34.7L281.8 105.3"/>
<path d="M311.5 76.3L281.8 105.3"/>
<path d="M311.5 76.3L326.5 117.9"/>
<path d="M311.5 76.3L296.7 146.9"/>
<path d="M326.5 117.9L296.7 146.9"/>
<path d="M326.5 117.9L341.4 159.5"/>
<path d="M326.5 117.9L311.6 188.5"/>
<path d="M341.4 159.5L311.6 188.5"/>
<path d="M341.4 159.5L356.3 201.1"/>
<path d="M341.4 159.5L326.6 230.1"/>
<path d="M356.3 201.1L326.6 230.1"/>
<path d="M356.3 201.1L371.2 242.7"/>
<path d="M356.3 201.1L341.5 271.7"/>
<path d="M222.1 -61.0L207.3 9.6"/>
<path d="M237.0 -19.4L207.3 9.6"/>
<path d="M237.0 -19.4L251.9 22.1"/>
<path d="M237.0 -19.4L222.2 51.2"/>
<path d="M251.9 22.1L222.2 51.2"/>
<path d="M251.9 22.1L266.9 63.7"/>
<path d="M251.9 22.1L237.1 92.8"/>
<path d="M266.9 63.7L237.1 92.8"/>
<path d="M266.9 63.7L281.8 105.3"/>
<path d="M266.9 63.7L252.0 134.3"/>
<path d="M281.8 105.3L252.0 134.3"/>
<path d="M281.8 105.3L296.7 146.9"/>
<path d="M281.8 105.3L267.0 175.9"/>
<path d="M296.7 146.9L267.0 175.9"/>
<path d="M296.7 146.9L311.6 188.5"/>
<path d="M296.7 146.9L281.9 217.5"/>
<path d="M311.6 188.5L281.9 217.5"/>
<path d="M311.6 188.5L326.6 230.1"/>
<path d="M311.6 188.5L296.8 259.1"/>
<path d="M326.6 230.1L296.8 259.1"/>
<path d="M326.6 230.1L341.5 271.7"/>
<path d="M326.6 230.1L311.7 300.7"/>
<path d="M177.4 -73.6L162.6 -3.0"/>
<path d="M192.3 -32.0L162.6 -3.0"/>
<path d="M192.3 -32.0L207.3 9.6"/>
<path d="M192.3 -32.0L177.5 38.6"/>
<path d="M207.3 9.6L177.5 38.6"/>
<path d="M207.3 9.6L222.2 51.2"/>
<path d="M207.3 9.6L192.5 80.2"/>
<path d="M222.2 51.2L192.5 80.2"/>
<path d="M222.2 51.2L237.1 92.8"/>
<path d="M222.2 51.2L207.4 121.8"/>
<path d="M237.1 92.8L207.4 121.8"/>
<path d="M237.1 92.8L252.0 134.3"/>
<path d="M237.1 92.8L222.3 163.4"/>
<path d="M252.0 134.3L222.3 163.4"/>
<path d="M252.0 134.3L267.0 175.9"/>
<path d="M252.0 134.3L237.2 204.9"/>
<path d="M267.0 175.9L237.2 204.9"/>
<path d="M267.0 175.9L281.9 217.5"/>
<path d="M267.0 175.9L252.2 246.5"/>
<path d="M281.9 217.5L252.2 246.5"/>
<path d="M281.9 217.5L296.8 259.1"/>
<path d="M281.9 217.5L267.1 288.1"/>
<path d="M296.8 259.1L267.1 288.1"/>
<path d="M296.8 259.1L311.7 300.7"/>
<path d="M296.8 259.1L282.0 329.7"/>
<path d="M162.6 -3.0L177.5 38.6"/>
<path d="M177.5 38.6L147.8 67.6"/>
<path d="M177.5 38.6L192.5 80.2"/>
<path d="M177.5 38.6L162.7 109.2"/>
<path d="M192.5 80.2L162.7 109.2"/>
<path d="M192.5 80.2L207.4 121.8"/>
<path d="M192.5 80.2L177.6 150.8"/>
<path d="M207.4 121.8L177.6 150.8"/>
<path d="M207.4 121.8L222.3 163.4"/>
<path d="M207.4 121.8L192.6 192.4"/>
<path d="M222.3 163.4L192.6 192.4"/>
<path d="M222.3 163.4L237.2 204.9"/>
<path d="M222.3 163.4L207.5 234.0"/>
<path d="M237.2 204.9L207.5 234.0"/>
<path d="M237.2 204.9L252.2 246.5"/>
<path d="M237.2 204.9L222.4 275.5"/>
<path d="M252.2 246.5L222.4 275.5"/>
<path d="M252.2 246.5L267.1 288.1"/>
<path d="M252.2 246.5L237.3 317.1"/>
<path d="M267.1 288.1L237.3 317.1"/>
<path d="M267.1 288.1L282.0 329.7"/>
<path d="M267.1 288.1L252.3 358.7"/>
<path d="M162.7 109.2L177.6 150.8"/>
<path d="M177.6 150.8L147.9 179.8"/>
<path d="M177.6 150.8L192.6 192.4"/>
<path d="M177.6 150.8L162.8 221.4"/>
<path d="M192.6 192.4L162.8 221.4"/>
<path d="M192.6 192.4L207.5 234.0"/>
<path d="M192.6 192.4L177.7 263.0"/>
<path d="M207.5 234.0L177.7 263.0"/>
<path d="M207.5 234.0L222.4 275.5"/>
<path d="M207.5 234.0L192.7 304.6"/>
<path d="M222.4 275.5L192.7 304.6"/>
<path d="M222.4 275.5L237.3 317.1"/>
<path d="M222.4 275.5L207.6 346.1"/>
<path d="M237.3 317.1L207.6 346.1"/>
<path d="M237.3 317.1L252.3 358.7"/>
<path d="M237.3 317.1L222.5 387.7"/>
<path d="M162.8 221.4L177.7 263.0"/>
<path d="M177.7 263.0L148.0 292.0"/>
<path d="M177.7 263.0L192.7 304.6"/>
<path d="M177.7 263.0L162.9 333.6"/>
<path d="M192.7 304.6L162.9 333.6"/>
<path d="M192.7 304.6L207.6 346.1"/>
<path d="M192.7 304.6L177.8 375.2"/>
<path d="M207.6 346.1L177.8 375.2"/>
<path d="M207.6 346.1L222.5 387.7"/>
<path d="M207.6 346.1L192.8 416.7"/>
<path d="M162.9 333.6L177.8 375.2"/>
<path d="M177.8 375.2L148.1 404.2"/>
<path d="M177.8 375.2L192.8 416.7"/>
<path d="M177.8 375.2L163.0 445.8"/>
</g>
<g clip-path="url(#cf)" stroke="#000080" stroke-width="0.85" fill="none" shape-rendering="crispEdges">
<path d="M446.0 114.6L509.7 113.4"/>
<path d="M509.7 113.4L479.9 142.3"/>
<path d="M479.9 142.3L446.0 114.6"/>
<path d="M446.0 114.6L416.2 143.5"/>
<path d="M416.2 143.5L479.9 142.3"/>
<path d="M509.7 113.4L573.3 112.3"/>
<path d="M573.3 112.3L543.5 141.1"/>
<path d="M543.5 141.1L509.7 113.4"/>
<path d="M479.9 142.3L543.5 141.1"/>
<path d="M573.3 112.3L637.0 111.1"/>
<path d="M637.0 111.1L607.2 140.0"/>
<path d="M607.2 140.0L573.3 112.3"/>
<path d="M543.5 141.1L607.2 140.0"/>
<path d="M607.2 140.0L670.9 138.8"/>
<path d="M670.9 138.8L637.0 111.1"/>
<path d="M700.6 109.9L670.9 138.8"/>
<path d="M670.9 138.8L734.5 137.6"/>
<path d="M479.9 142.3L450.1 171.2"/>
<path d="M450.1 171.2L416.2 143.5"/>
<path d="M416.2 143.5L386.4 172.4"/>
<path d="M386.4 172.4L450.1 171.2"/>
<path d="M543.5 141.1L513.8 170.0"/>
<path d="M513.8 170.0L479.9 142.3"/>
<path d="M450.1 171.2L513.8 170.0"/>
<path d="M607.2 140.0L577.4 168.9"/>
<path d="M577.4 168.9L543.5 141.1"/>
<path d="M513.8 170.0L577.4 168.9"/>
<path d="M670.9 138.8L641.1 167.7"/>
<path d="M641.1 167.7L607.2 140.0"/>
<path d="M577.4 168.9L641.1 167.7"/>
<path d="M704.7 166.5L670.9 138.8"/>
<path d="M641.1 167.7L704.7 166.5"/>
<path d="M450.1 171.2L420.3 200.1"/>
<path d="M420.3 200.1L386.4 172.4"/>
<path d="M386.4 172.4L356.6 201.3"/>
<path d="M356.6 201.3L420.3 200.1"/>
<path d="M513.8 170.0L484.0 198.9"/>
<path d="M484.0 198.9L450.1 171.2"/>
<path d="M420.3 200.1L484.0 198.9"/>
<path d="M577.4 168.9L547.6 197.8"/>
<path d="M547.6 197.8L513.8 170.0"/>
<path d="M484.0 198.9L547.6 197.8"/>
<path d="M641.1 167.7L611.3 196.6"/>
<path d="M611.3 196.6L577.4 168.9"/>
<path d="M547.6 197.8L611.3 196.6"/>
<path d="M704.7 166.5L674.9 195.4"/>
<path d="M674.9 195.4L641.1 167.7"/>
<path d="M611.3 196.6L674.9 195.4"/>
<path d="M674.9 195.4L738.6 194.2"/>
<path d="M420.3 200.1L390.5 229.0"/>
<path d="M390.5 229.0L356.6 201.3"/>
<path d="M356.6 201.3L326.9 230.2"/>
<path d="M326.9 230.2L390.5 229.0"/>
<path d="M484.0 198.9L454.2 227.8"/>
<path d="M454.2 227.8L420.3 200.1"/>
<path d="M390.5 229.0L454.2 227.8"/>
<path d="M547.6 197.8L517.8 226.6"/>
<path d="M517.8 226.6L484.0 198.9"/>
<path d="M454.2 227.8L517.8 226.6"/>
<path d="M611.3 196.6L581.5 225.5"/>
<path d="M581.5 225.5L547.6 197.8"/>
<path d="M517.8 226.6L581.5 225.5"/>
<path d="M674.9 195.4L637.4 230.7"/>
<path d="M637.4 230.7L611.3 196.6"/>
<path d="M581.5 225.5L637.4 230.7"/>
<path d="M708.8 223.1L674.9 195.4"/>
<path d="M637.4 230.7L708.8 223.1"/>
<path d="M390.5 229.0L360.7 257.9"/>
<path d="M360.7 257.9L326.9 230.2"/>
<path d="M326.9 230.2L297.1 259.1"/>
<path d="M297.1 259.1L360.7 257.9"/>
<path d="M454.2 227.8L424.4 256.7"/>
<path d="M424.4 256.7L390.5 229.0"/>
<path d="M360.7 257.9L424.4 256.7"/>
<path d="M517.8 226.6L488.1 255.5"/>
<path d="M488.1 255.5L454.2 227.8"/>
<path d="M424.4 256.7L488.1 255.5"/>
<path d="M581.5 225.5L551.7 254.4"/>
<path d="M551.7 254.4L517.8 226.6"/>
<path d="M488.1 255.5L551.7 254.4"/>
<path d="M637.4 230.7L615.4 253.2"/>
<path d="M615.4 253.2L581.5 225.5"/>
<path d="M551.7 254.4L615.4 253.2"/>
<path d="M708.8 223.1L679.0 252.0"/>
<path d="M679.0 252.0L637.4 230.7"/>
<path d="M615.4 253.2L679.0 252.0"/>
<path d="M679.0 252.0L742.7 250.8"/>
<path d="M360.7 257.9L330.9 286.8"/>
<path d="M330.9 286.8L297.1 259.1"/>
<path d="M297.1 259.1L267.3 288.0"/>
<path d="M267.3 288.0L330.9 286.8"/>
<path d="M424.4 256.7L394.6 285.6"/>
<path d="M394.6 285.6L360.7 257.9"/>
<path d="M330.9 286.8L394.6 285.6"/>
<path d="M488.1 255.5L458.3 284.4"/>
<path d="M458.3 284.4L424.4 256.7"/>
<path d="M394.6 285.6L458.3 284.4"/>
<path d="M551.7 254.4L521.9 283.3"/>
<path d="M521.9 283.3L488.1 255.5"/>
<path d="M458.3 284.4L521.9 283.3"/>
<path d="M615.4 253.2L585.6 282.1"/>
<path d="M585.6 282.1L551.7 254.4"/>
<path d="M521.9 283.3L585.6 282.1"/>
<path d="M679.0 252.0L649.2 280.9"/>
<path d="M649.2 280.9L615.4 253.2"/>
<path d="M585.6 282.1L649.2 280.9"/>
<path d="M712.9 279.7L679.0 252.0"/>
<path d="M649.2 280.9L712.9 279.7"/>
<path d="M330.9 286.8L301.2 315.7"/>
<path d="M301.2 315.7L267.3 288.0"/>
<path d="M267.3 288.0L237.5 316.8"/>
<path d="M237.5 316.8L301.2 315.7"/>
<path d="M394.6 285.6L364.8 314.5"/>
<path d="M364.8 314.5L330.9 286.8"/>
<path d="M301.2 315.7L364.8 314.5"/>
<path d="M458.3 284.4L428.5 313.3"/>
<path d="M428.5 313.3L394.6 285.6"/>
<path d="M364.8 314.5L428.5 313.3"/>
<path d="M521.9 283.3L492.1 312.1"/>
<path d="M492.1 312.1L458.3 284.4"/>
<path d="M428.5 313.3L492.1 312.1"/>
<path d="M585.6 282.1L555.8 311.0"/>
<path d="M555.8 311.0L521.9 283.3"/>
<path d="M492.1 312.1L555.8 311.0"/>
<path d="M649.2 280.9L619.5 309.8"/>
<path d="M619.5 309.8L585.6 282.1"/>
<path d="M555.8 311.0L619.5 309.8"/>
<path d="M712.9 279.7L683.1 308.6"/>
<path d="M683.1 308.6L649.2 280.9"/>
<path d="M619.5 309.8L683.1 308.6"/>
<path d="M683.1 308.6L746.8 307.4"/>
<path d="M301.2 315.7L271.4 344.6"/>
<path d="M271.4 344.6L237.5 316.8"/>
<path d="M237.5 316.8L207.7 345.7"/>
<path d="M207.7 345.7L271.4 344.6"/>
<path d="M364.8 314.5L335.0 343.4"/>
<path d="M335.0 343.4L301.2 315.7"/>
<path d="M271.4 344.6L335.0 343.4"/>
<path d="M428.5 313.3L398.7 342.2"/>
<path d="M398.7 342.2L364.8 314.5"/>
<path d="M335.0 343.4L398.7 342.2"/>
<path d="M492.1 312.1L462.4 341.0"/>
<path d="M462.4 341.0L428.5 313.3"/>
<path d="M398.7 342.2L462.4 341.0"/>
<path d="M555.8 311.0L526.0 339.9"/>
<path d="M526.0 339.9L492.1 312.1"/>
<path d="M462.4 341.0L526.0 339.9"/>
<path d="M619.5 309.8L589.7 338.7"/>
<path d="M589.7 338.7L555.8 311.0"/>
<path d="M526.0 339.9L589.7 338.7"/>
<path d="M683.1 308.6L653.3 337.5"/>
<path d="M653.3 337.5L619.5 309.8"/>
<path d="M589.7 338.7L653.3 337.5"/>
<path d="M717.0 336.3L683.1 308.6"/>
<path d="M653.3 337.5L717.0 336.3"/>
<path d="M271.4 344.6L248.4 366.5"/>
<path d="M248.4 366.5L207.7 345.7"/>
<path d="M207.7 345.7L177.6 375.4"/>
<path d="M177.6 375.4L248.4 366.5"/>
<path d="M335.0 343.4L305.2 372.3"/>
<path d="M305.2 372.3L271.4 344.6"/>
<path d="M248.4 366.5L305.2 372.3"/>
<path d="M398.7 342.2L368.9 371.1"/>
<path d="M368.9 371.1L335.0 343.4"/>
<path d="M305.2 372.3L368.9 371.1"/>
<path d="M462.4 341.0L432.6 369.9"/>
<path d="M432.6 369.9L398.7 342.2"/>
<path d="M368.9 371.1L432.6 369.9"/>
<path d="M526.0 339.9L496.2 368.8"/>
<path d="M496.2 368.8L462.4 341.0"/>
<path d="M432.6 369.9L496.2 368.8"/>
<path d="M589.7 338.7L559.9 367.6"/>
<path d="M559.9 367.6L526.0 339.9"/>
<path d="M496.2 368.8L559.9 367.6"/>
<path d="M653.3 337.5L623.5 366.4"/>
<path d="M623.5 366.4L589.7 338.7"/>
<path d="M559.9 367.6L623.5 366.4"/>
<path d="M717.0 336.3L687.2 365.2"/>
<path d="M687.2 365.2L653.3 337.5"/>
<path d="M623.5 366.4L687.2 365.2"/>
<path d="M687.2 365.2L750.9 364.1"/>
<path d="M368.9 371.1L346.0 393.0"/>
<path d="M346.0 393.0L305.2 372.3"/>
<path d="M432.6 369.9L402.8 398.8"/>
<path d="M402.8 398.8L368.9 371.1"/>
<path d="M346.0 393.0L402.8 398.8"/>
<path d="M496.2 368.8L466.4 397.6"/>
<path d="M466.4 397.6L432.6 369.9"/>
<path d="M402.8 398.8L466.4 397.6"/>
<path d="M559.9 367.6L530.1 396.5"/>
<path d="M530.1 396.5L496.2 368.8"/>
<path d="M466.4 397.6L530.1 396.5"/>
<path d="M623.5 366.4L593.8 395.3"/>
<path d="M593.8 395.3L559.9 367.6"/>
<path d="M530.1 396.5L593.8 395.3"/>
<path d="M687.2 365.2L657.4 394.1"/>
<path d="M657.4 394.1L623.5 366.4"/>
<path d="M593.8 395.3L657.4 394.1"/>
<path d="M721.1 392.9L687.2 365.2"/>
<path d="M657.4 394.1L721.1 392.9"/>
<path d="M402.8 398.8L373.0 427.7"/>
<path d="M373.0 427.7L346.0 393.0"/>
<path d="M466.4 397.6L436.6 426.5"/>
<path d="M436.6 426.5L402.8 398.8"/>
<path d="M373.0 427.7L436.6 426.5"/>
<path d="M530.1 396.5L500.3 425.4"/>
<path d="M500.3 425.4L466.4 397.6"/>
<path d="M436.6 426.5L500.3 425.4"/>
<path d="M593.8 395.3L564.0 424.2"/>
<path d="M564.0 424.2L530.1 396.5"/>
<path d="M500.3 425.4L564.0 424.2"/>
<path d="M657.4 394.1L627.6 423.0"/>
<path d="M627.6 423.0L593.8 395.3"/>
<path d="M564.0 424.2L627.6 423.0"/>
<path d="M691.3 421.8L657.4 394.1"/>
<path d="M627.6 423.0L691.3 421.8"/>
<path d="M436.6 426.5L406.9 455.4"/>
<path d="M406.9 455.4L373.0 427.7"/>
<path d="M373.0 427.7L343.2 456.6"/>
<path d="M500.3 425.4L470.5 454.2"/>
<path d="M470.5 454.2L436.6 426.5"/>
<path d="M564.0 424.2L534.2 453.1"/>
<path d="M534.2 453.1L500.3 425.4"/>
<path d="M627.6 423.0L597.8 451.9"/>
<path d="M597.8 451.9L564.0 424.2"/>
<path d="M691.3 421.8L661.5 450.7"/>
<path d="M661.5 450.7L627.6 423.0"/>
<path d="M248.4 366.5L227.4 389.0"/>
<path d="M227.4 389.0L177.6 375.4"/>
<path d="M248.4 366.5L276.4 402.5"/>
<path d="M276.4 402.5L227.4 389.0"/>
<path d="M305.2 372.3L276.4 402.5"/>
<path d="M346.0 393.0L276.4 402.5"/>
<path d="M346.0 393.0L323.7 415.0"/>
<path d="M323.7 415.0L276.4 402.5"/>
<path d="M346.0 393.0L372.0 427.6"/>
<path d="M372.0 427.6L323.7 415.0"/>
<path d="M402.8 398.8L372.0 427.6"/>
<path d="M637.4 230.7L660 209.8"/>
</g>
<line x1="415.5" y1="-2.0" x2="415.5" y2="143.1" stroke="#000080" stroke-width="1" />
<line x1="415.6" y1="143.1" x2="177.6" y2="375.4" stroke="#2090e0" stroke-width="1" />
<line x1="177.6" y1="375.4" x2="354.0" y2="423.0" stroke="#30b0e8" stroke-width="1.2" stroke-dasharray="2 1"/>
<path d="M415.6 143.1L611.3 196.6L683 216.2" stroke="#2890e8" stroke-width="1.2" fill="none"/>
<path d="M354.9 133.8l4.5 -4.5l4.5 4.5" stroke="#808080" stroke-width="2" fill="none"/>
<path d="M255.3 247.0l4.5 -4.5l4.5 4.5" stroke="#808080" stroke-width="2" fill="none"/>
<path d="M351.2 360.1l4.5 -4.5l4.5 4.5" stroke="#808080" stroke-width="2" fill="none"/>
<path d="M609.2 209.1l4.5 -4.5l4.5 4.5" stroke="#808080" stroke-width="2" fill="none"/>
<path d="M603.6 294.0l4.5 -4.5l4.5 4.5" stroke="#808080" stroke-width="2" fill="none"/>
<g font-family="'Liberation Sans', sans-serif" font-size="11px" fill="#111">
<rect x="130.5" y="46.5" width="238.0" height="75.0" fill="#fff" stroke="#fff" stroke-width="3"/>
<rect x="130.5" y="46.5" width="88.0" height="75.0" fill="#f7f7f5"/>
<rect x="130.5" y="46.5" width="238.0" height="75.0" fill="none" stroke="#1a1a1a" stroke-width="1"/>
<line x1="218.5" y1="46.5" x2="218.5" y2="121.5" stroke="#1a1a1a" stroke-width="1" />
<text x="137.1" y="62.9" textLength="43.8" lengthAdjust="spacingAndGlyphs">Element:</text>
<text x="137.1" y="87.9" textLength="79.0" lengthAdjust="spacingAndGlyphs">X, Y, Z Location:</text>
<text x="137.1" y="112.9" textLength="32.4" lengthAdjust="spacingAndGlyphs">Value:</text>
<text x="222.3" y="62.9" textLength="23.4" lengthAdjust="spacingAndGlyphs">2368</text>
<text x="222.3" y="87.9" textLength="89.3" lengthAdjust="spacingAndGlyphs">28.4,26.8,25.9 mm</text>
<text x="222.3" y="112.9" textLength="47.3" lengthAdjust="spacingAndGlyphs">1,021.769</text>
<text x="279.5" y="112.9" textLength="74.0" lengthAdjust="spacingAndGlyphs">N/mm^2 (MPa)</text>
<rect x="389.5" y="122.5" width="232.0" height="75.0" fill="#fff" stroke="#fff" stroke-width="3"/>
<rect x="389.5" y="122.5" width="88.0" height="75.0" fill="#f7f7f5"/>
<rect x="389.5" y="122.5" width="232.0" height="75.0" fill="none" stroke="#1a1a1a" stroke-width="1"/>
<line x1="477.5" y1="122.5" x2="477.5" y2="197.5" stroke="#1a1a1a" stroke-width="1" />
<text x="396.1" y="138.9" textLength="43.8" lengthAdjust="spacingAndGlyphs">Element:</text>
<text x="396.1" y="163.9" textLength="79.0" lengthAdjust="spacingAndGlyphs">X, Y, Z Location:</text>
<text x="396.1" y="188.9" textLength="32.4" lengthAdjust="spacingAndGlyphs">Value:</text>
<text x="481.3" y="138.9" textLength="23.4" lengthAdjust="spacingAndGlyphs">6437</text>
<text x="481.3" y="163.9" textLength="89.3" lengthAdjust="spacingAndGlyphs">30.6,23.9,17.8 mm</text>
<text x="481.3" y="188.9" textLength="38.8" lengthAdjust="spacingAndGlyphs">920.049</text>
<text x="532.7" y="188.9" textLength="74.0" lengthAdjust="spacingAndGlyphs">N/mm^2 (MPa)</text>
<rect x="37.5" y="159.5" width="232.0" height="75.0" fill="#fff" stroke="#fff" stroke-width="3"/>
<rect x="37.5" y="159.5" width="88.0" height="75.0" fill="#f7f7f5"/>
<rect x="37.5" y="159.5" width="232.0" height="75.0" fill="none" stroke="#1a1a1a" stroke-width="1"/>
<line x1="125.5" y1="159.5" x2="125.5" y2="234.5" stroke="#1a1a1a" stroke-width="1" />
<text x="44.1" y="175.9" textLength="43.8" lengthAdjust="spacingAndGlyphs">Element:</text>
<text x="44.1" y="200.9" textLength="79.0" lengthAdjust="spacingAndGlyphs">X, Y, Z Location:</text>
<text x="44.1" y="225.9" textLength="32.4" lengthAdjust="spacingAndGlyphs">Value:</text>
<text x="129.3" y="175.9" textLength="23.4" lengthAdjust="spacingAndGlyphs">1764</text>
<text x="129.3" y="200.9" textLength="89.3" lengthAdjust="spacingAndGlyphs">28.4,28.4,30.2 mm</text>
<text x="129.3" y="225.9" textLength="38.8" lengthAdjust="spacingAndGlyphs">818.531</text>
<text x="180.7" y="225.9" textLength="74.0" lengthAdjust="spacingAndGlyphs">N/mm^2 (MPa)</text>
<rect x="384.5" y="207.5" width="232.0" height="75.0" fill="#fff" stroke="#fff" stroke-width="3"/>
<rect x="384.5" y="207.5" width="88.0" height="75.0" fill="#f7f7f5"/>
<rect x="384.5" y="207.5" width="232.0" height="75.0" fill="none" stroke="#1a1a1a" stroke-width="1"/>
<line x1="472.5" y1="207.5" x2="472.5" y2="282.5" stroke="#1a1a1a" stroke-width="1" />
<text x="391.1" y="223.9" textLength="43.8" lengthAdjust="spacingAndGlyphs">Element:</text>
<text x="391.1" y="248.9" textLength="79.0" lengthAdjust="spacingAndGlyphs">X, Y, Z Location:</text>
<text x="391.1" y="273.9" textLength="32.4" lengthAdjust="spacingAndGlyphs">Value:</text>
<text x="476.3" y="223.9" textLength="23.4" lengthAdjust="spacingAndGlyphs">6432</text>
<text x="476.3" y="248.9" textLength="71.3" lengthAdjust="spacingAndGlyphs">33,23.9,23 mm</text>
<text x="476.3" y="273.9" textLength="38.8" lengthAdjust="spacingAndGlyphs">796.220</text>
<text x="527.7" y="273.9" textLength="74.0" lengthAdjust="spacingAndGlyphs">N/mm^2 (MPa)</text>
<rect x="132.5" y="273.5" width="232.0" height="75.0" fill="#fff" stroke="#fff" stroke-width="3"/>
<rect x="132.5" y="273.5" width="88.0" height="75.0" fill="#f7f7f5"/>
<rect x="132.5" y="273.5" width="232.0" height="75.0" fill="none" stroke="#1a1a1a" stroke-width="1"/>
<line x1="220.5" y1="273.5" x2="220.5" y2="348.5" stroke="#1a1a1a" stroke-width="1" />
<text x="139.1" y="289.9" textLength="43.8" lengthAdjust="spacingAndGlyphs">Element:</text>
<text x="139.1" y="314.9" textLength="79.0" lengthAdjust="spacingAndGlyphs">X, Y, Z Location:</text>
<text x="139.1" y="339.9" textLength="32.4" lengthAdjust="spacingAndGlyphs">Value:</text>
<text x="224.3" y="289.9" textLength="23.4" lengthAdjust="spacingAndGlyphs">5335</text>
<text x="224.3" y="314.9" textLength="89.3" lengthAdjust="spacingAndGlyphs">30.1,23.9,26.4 mm</text>
<text x="224.3" y="339.9" textLength="38.8" lengthAdjust="spacingAndGlyphs">909.273</text>
<text x="275.7" y="339.9" textLength="74.0" lengthAdjust="spacingAndGlyphs">N/mm^2 (MPa)</text>
</g>
<line x1="251.7" y1="120.8" x2="313.6" y2="221.2" stroke="#444" stroke-width="2.1" opacity="0.45"/>
<line x1="251.7" y1="120.8" x2="313.6" y2="221.2" stroke="#fff" stroke-width="1.15" />
<line x1="270.5" y1="196.5" x2="296.6" y2="226.2" stroke="#444" stroke-width="2.1" opacity="0.45"/>
<line x1="270.5" y1="196.5" x2="296.6" y2="226.2" stroke="#fff" stroke-width="1.15" />
<line x1="391.7" y1="159.8" x2="362.5" y2="216.1" stroke="#444" stroke-width="2.1" opacity="0.45"/>
<line x1="391.7" y1="159.8" x2="362.5" y2="216.1" stroke="#fff" stroke-width="1.15" />
<line x1="386.7" y1="244.7" x2="359.4" y2="241.1" stroke="#444" stroke-width="2.1" opacity="0.45"/>
<line x1="386.7" y1="244.7" x2="359.4" y2="241.1" stroke="#fff" stroke-width="1.15" />
<line x1="250.4" y1="272.5" x2="324.5" y2="248.2" stroke="#444" stroke-width="2.1" opacity="0.45"/>
<line x1="250.4" y1="272.5" x2="324.5" y2="248.2" stroke="#fff" stroke-width="1.15" />
<circle cx="251.7" cy="120.8" r="3" fill="#fff" stroke="#222" stroke-width="1"/>
<circle cx="313.6" cy="221.2" r="3" fill="#ececec" stroke="#505050" stroke-width="1"/>
<path d="M314.6 220.2a1.6 1.6 0 1 0 0 2" stroke="#999" stroke-width="0.8" fill="none"/>
<circle cx="270.5" cy="196.5" r="3" fill="#fff" stroke="#222" stroke-width="1"/>
<circle cx="296.6" cy="226.2" r="3" fill="#ececec" stroke="#505050" stroke-width="1"/>
<path d="M297.6 225.2a1.6 1.6 0 1 0 0 2" stroke="#999" stroke-width="0.8" fill="none"/>
<circle cx="391.7" cy="159.8" r="3" fill="#fff" stroke="#222" stroke-width="1"/>
<circle cx="362.5" cy="216.1" r="3" fill="#ececec" stroke="#505050" stroke-width="1"/>
<path d="M363.5 215.1a1.6 1.6 0 1 0 0 2" stroke="#999" stroke-width="0.8" fill="none"/>
<circle cx="386.7" cy="244.7" r="3" fill="#fff" stroke="#222" stroke-width="1"/>
<circle cx="359.4" cy="241.1" r="3" fill="#ececec" stroke="#505050" stroke-width="1"/>
<path d="M360.4 240.1a1.6 1.6 0 1 0 0 2" stroke="#999" stroke-width="0.8" fill="none"/>
<circle cx="250.4" cy="272.5" r="3" fill="#fff" stroke="#222" stroke-width="1"/>
<circle cx="324.5" cy="248.2" r="3" fill="#ececec" stroke="#505050" stroke-width="1"/>
<path d="M325.5 247.2a1.6 1.6 0 1 0 0 2" stroke="#999" stroke-width="0.8" fill="none"/>
</svg></body></html>
